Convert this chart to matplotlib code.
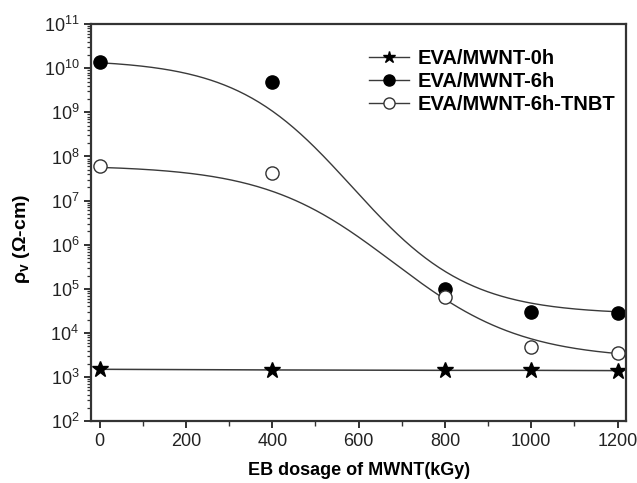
import numpy as np
import matplotlib
matplotlib.use('Agg')
import matplotlib.pyplot as plt
from matplotlib.ticker import NullFormatter

plt.rcParams['font.family'] = ['Liberation Sans', 'DejaVu Sans']
plt.rcParams['mathtext.fontset'] = 'custom'
plt.rcParams['mathtext.rm'] = 'Liberation Sans'
plt.rcParams['mathtext.it'] = 'Liberation Sans:italic'
plt.rcParams['mathtext.bf'] = 'Liberation Sans:bold'

# EB dosage (kGy)
dose = [0, 400, 800, 1000, 1200]
# volume resistivity (ohm-cm)
rho_0h = [1.5e3, 1.45e3, 1.42e3, 1.42e3, 1.4e3]
rho_6h = [1.4e10, 4.9e9, 9.8e4, 3.0e4, 2.8e4]
rho_6h_tnbt = [6.0e7, 4.2e7, 6.5e4, 4.8e3, 3.6e3]

# Boltzmann fit parameters on log10(rho): A1, A2, x0, dx
fit_6h = [10.2, 4.42, 585, 135]
fit_6h_tnbt = [7.8, 3.4, 680, 150]


def boltzmann(x, p):
    a1, a2, x0, dx = p
    return 10 ** (a2 + (a1 - a2) / (1 + np.exp((x - x0) / dx)))


fig = plt.figure(figsize=(6.37, 4.83), dpi=100)
ax = fig.add_axes([0.143, 0.128, 0.840, 0.822])

xs = np.linspace(0, 1200, 300)
lc = '#3a3a3a'
ax.plot(dose, rho_0h, '-', color=lc, lw=1.1, marker='*', ms=12,
        mfc='black', mec='black')
ax.plot(xs, boltzmann(xs, fit_6h), '-', color=lc, lw=1.0)
ax.plot(dose, rho_6h, 'o', ms=9.5, mfc='black', mec='black')
ax.plot(xs, boltzmann(xs, fit_6h_tnbt), '-', color=lc, lw=1.0)
ax.plot(dose, rho_6h_tnbt, 'o', ms=9.5, mfc='white', mec='#333333', mew=1.0)

# legend proxies
h1 = ax.plot([], [], '-', color=lc, lw=1.0, marker='*', ms=9, mfc='black', mec='black')[0]
h2 = ax.plot([], [], '-', color=lc, lw=1.0, marker='o', ms=8, mfc='black', mec='black')[0]
h3 = ax.plot([], [], '-', color=lc, lw=1.0, marker='o', ms=8, mfc='white', mec='#333333')[0]
ax.legend([h1, h2, h3], ['EVA/MWNT-0h', 'EVA/MWNT-6h', 'EVA/MWNT-6h-TNBT'],
          loc='upper right', bbox_to_anchor=(1.0, 0.965), frameon=False,
          prop={'weight': 'bold', 'size': 14.5}, handlelength=2.0,
          handletextpad=0.4, labelspacing=0.2, borderaxespad=0.15)

ax.set_yscale('log')
ax.set_ylim(1e2, 1e11)
ax.set_xlim(-20, 1220)
ax.set_xticks([0, 200, 400, 600, 800, 1000, 1200])
ax.set_xticks(np.arange(100, 1200, 200), minor=True)
ax.set_yticks([10.0 ** k for k in range(2, 12)])
minor_y = [m * 10.0 ** k for k in range(2, 11) for m in range(2, 10)]
ax.set_yticks(minor_y, minor=True)
ax.yaxis.set_minor_formatter(NullFormatter())

for s in ax.spines.values():
    s.set_linewidth(1.6)
    s.set_color('#333333')
ax.tick_params(which='major', direction='out', length=5, width=1.3,
               labelsize=13, colors='#222222')
ax.tick_params(axis='x', which='minor', direction='out', length=3.5, width=1.0,
               color='#333333')
ax.tick_params(axis='y', which='minor', direction='out', length=3, width=0.9,
               color='#333333', left=True)

ax.set_xlabel('EB dosage of MWNT(kGy)', fontsize=13, fontweight='bold', labelpad=9)
ax.set_ylabel(r'$\mathbf{\rho_v}$ ($\mathbf{\Omega}$-cm)', fontsize=14,
              fontweight='bold')
ax.yaxis.set_label_coords(-0.11, 0.46)

fig.savefig('out.png', dpi=100)
